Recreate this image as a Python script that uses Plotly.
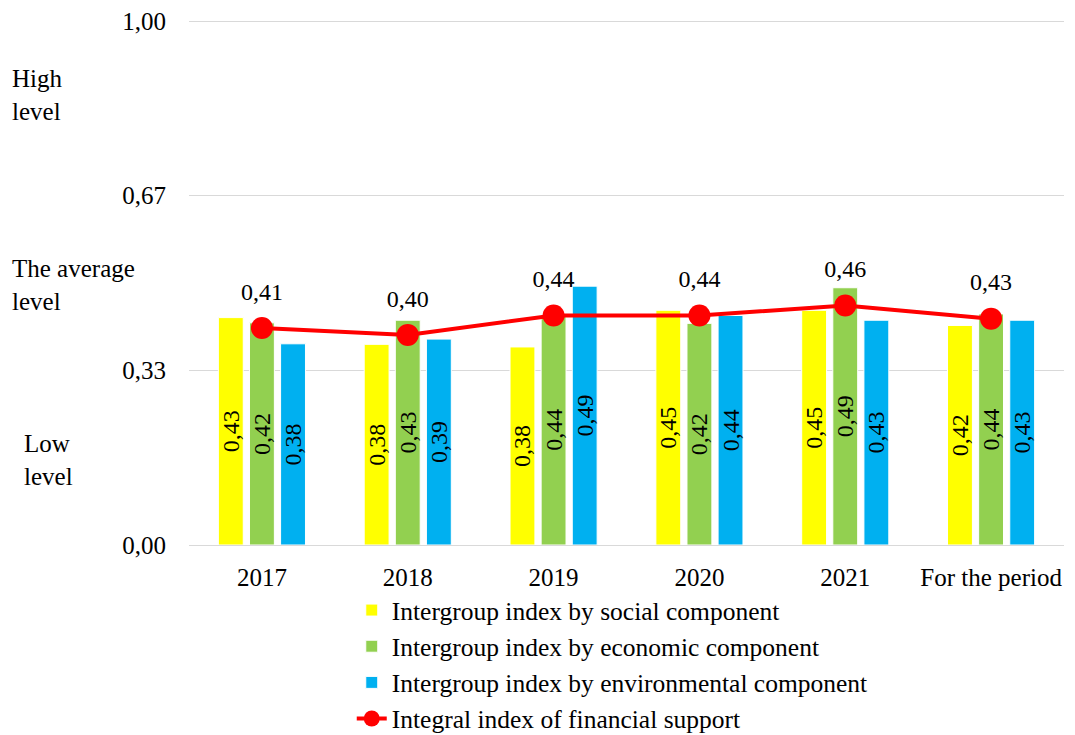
import plotly.graph_objects as go

categories = ["2017", "2018", "2019", "2020", "2021", "For the period"]
social = [0.434, 0.383, 0.378, 0.448, 0.448, 0.419]
economic = [0.424, 0.429, 0.440, 0.423, 0.491, 0.441]
environmental = [0.384, 0.393, 0.494, 0.438, 0.429, 0.429]
integral = [0.414, 0.401, 0.438, 0.438, 0.457, 0.432]
y_ticks = [0, 1/3, 2/3, 1.0]
y_tick_labels = ["0,00", "0,33", "0,67", "1,00"]
series_names = [
    "Intergroup index by social component",
    "Intergroup index by economic component",
    "Intergroup index by environmental component",
    "Integral index of financial support",
]

FONT = "Liberation Serif"
colors = ["#FFFF00", "#92D050", "#00B0F0"]

fig = go.Figure()
for i, (vals, name) in enumerate(zip([social, economic, environmental], series_names[:3])):
    fig.add_trace(go.Bar(
        x=categories, y=vals, name=name,
        marker=dict(color=colors[i], line=dict(color="white", width=1)),
        texttemplate="%{y:.2f}", textposition="inside", textangle=-90,
        insidetextanchor="middle",
        textfont=dict(family=FONT, size=24, color="black"),
        legendgroup=f"g{i}",
    ))

fig.add_trace(go.Scatter(
    x=categories, y=integral, name=series_names[3],
    mode="lines+markers",
    line=dict(color="#FF0000", width=4),
    marker=dict(color="#FF0000", size=22),
    legendgroup="g3",
))
fig.add_trace(go.Scatter(
    x=categories, y=integral, mode="text+markers", showlegend=False,
    marker=dict(size=34, opacity=0),
    texttemplate="%{y:.2f}", textposition="top center",
    textfont=dict(family=FONT, size=24, color="black"),
    hoverinfo="skip",
))

annots = [
    ("High<br>level", 10, 95),
    ("The average<br>level", 10, 285),
    ("Low<br>level", 22, 460),
]
plot_l, plot_r, plot_t, plot_b = 189, 1064, 20, 545
for text, px, py in annots:
    fig.add_annotation(
        text=text, xref="paper", yref="paper",
        x=(px - plot_l) / (plot_r - plot_l), y=(plot_b - py) / (plot_b - plot_t),
        xanchor="left", yanchor="middle", align="left", showarrow=False,
        font=dict(family=FONT, size=25, color="black"),
    )

fig.update_layout(
    width=1075, height=735,
    margin=dict(l=plot_l, r=1075 - plot_r, t=plot_t, b=735 - plot_b, autoexpand=False),
    paper_bgcolor="white", plot_bgcolor="white",
    separators=", ",
    barmode="group", bargap=0.36, bargroupgap=0.2,
    font=dict(family=FONT, size=25, color="black"),
    showlegend=True,
    legend=dict(
        orientation="v", x=0.186, y=-0.08, xanchor="left", yanchor="top",
        font=dict(family=FONT, size=25.5, color="black"),
        tracegroupgap=8, traceorder="normal",
        itemwidth=30,
    ),
    uniformtext=dict(minsize=24, mode="show"),
)
fig.update_yaxes(
    range=[0, 1.002], tickvals=y_ticks, ticktext=y_tick_labels,
    showgrid=True, gridcolor="#D9D9D9", gridwidth=1,
    zeroline=False, ticklabelstandoff=22,
    tickfont=dict(family=FONT, size=25),
)
fig.update_xaxes(
    showline=True, linecolor="#D9D9D9", linewidth=1,
    tickfont=dict(family=FONT, size=25),
    ticklabelstandoff=10,
)
fig.write_html("out.html")
